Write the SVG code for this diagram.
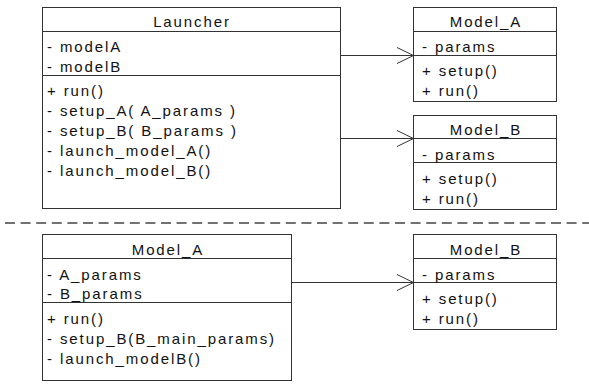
<svg xmlns="http://www.w3.org/2000/svg" width="589" height="391" viewBox="0 0 589 391">
<defs>
<style>
.box{fill:#fff;stroke:#333;stroke-width:1}
.div{stroke:#333;stroke-width:1}
text{font-family:"Liberation Sans",Arial,sans-serif;font-size:15px;fill:#111;letter-spacing:1.9px}
.t{text-anchor:middle}
.con{stroke:#333;stroke-width:1;fill:none}
</style>
</defs>
<rect width="589" height="391" fill="#fff"/>
<g id="launcher">
<rect class="box" x="42.5" y="7.5" width="298" height="201"/>
<line class="div" x1="42.5" y1="31.5" x2="340.5" y2="31.5"/>
<line class="div" x1="42.5" y1="75.5" x2="340.5" y2="75.5"/>
<text class="t" x="192" y="26.5">Launcher</text>
<text x="47" y="52">- modelA</text>
<text x="47" y="71.5">- modelB</text>
<text x="47" y="96">+ run()</text>
<text x="47" y="116">- setup_A( A_params )</text>
<text x="47" y="136">- setup_B( B_params )</text>
<text x="47" y="156">- launch_model_A()</text>
<text x="47" y="176">- launch_model_B()</text>
</g>
<g id="modelA-top">
<rect class="box" x="413.5" y="7.5" width="143" height="94"/>
<line class="div" x1="413.5" y1="31.5" x2="556.5" y2="31.5"/>
<line class="div" x1="413.5" y1="55.5" x2="556.5" y2="55.5"/>
<text class="t" x="486" y="26.5">Model_A</text>
<text x="422" y="51.5">- params</text>
<text x="422" y="76">+ setup()</text>
<text x="422" y="96">+ run()</text>
</g>
<g id="modelB-top">
<rect class="box" x="413.5" y="115.5" width="143" height="94"/>
<line class="div" x1="413.5" y1="138.5" x2="556.5" y2="138.5"/>
<line class="div" x1="413.5" y1="162.5" x2="556.5" y2="162.5"/>
<text class="t" x="486" y="135">Model_B</text>
<text x="422" y="159.5">- params</text>
<text x="422" y="183.5">+ setup()</text>
<text x="422" y="203.5">+ run()</text>
</g>
<g id="modelA-bottom">
<rect class="box" x="42.5" y="234.5" width="249" height="146"/>
<line class="div" x1="42.5" y1="258.5" x2="291.5" y2="258.5"/>
<line class="div" x1="42.5" y1="302.5" x2="291.5" y2="302.5"/>
<text class="t" x="168" y="255">Model_A</text>
<text x="47" y="279.5">- A_params</text>
<text x="47" y="298.5">- B_params</text>
<text x="47" y="324">+ run()</text>
<text x="47" y="343.5">- setup_B(B_main_params)</text>
<text x="47" y="363.5">- launch_modelB()</text>
</g>
<g id="modelB-bottom">
<rect class="box" x="413.5" y="234.5" width="143" height="95"/>
<line class="div" x1="413.5" y1="258.5" x2="556.5" y2="258.5"/>
<line class="div" x1="413.5" y1="282.5" x2="556.5" y2="282.5"/>
<text class="t" x="486" y="255">Model_B</text>
<text x="422" y="279.5">- params</text>
<text x="422" y="303.5">+ setup()</text>
<text x="422" y="323.5">+ run()</text>
</g>
<g id="connectors">
<line class="con" x1="340.5" y1="55.5" x2="413.5" y2="55.5"/>
<polyline class="con" points="397,47.5 413.5,55.5 397,63.5"/>
<line class="con" x1="340.5" y1="138.5" x2="413.5" y2="138.5"/>
<polyline class="con" points="397,130.5 413.5,138.5 397,146.5"/>
<line class="con" x1="291.5" y1="282.5" x2="413.5" y2="282.5"/>
<polyline class="con" points="397,274.5 413.5,282.5 397,290.5"/>
<line x1="5" y1="223" x2="589" y2="223" stroke="#444" stroke-dasharray="10,5.6" stroke-width="1.3"/>
</g>
</svg>
